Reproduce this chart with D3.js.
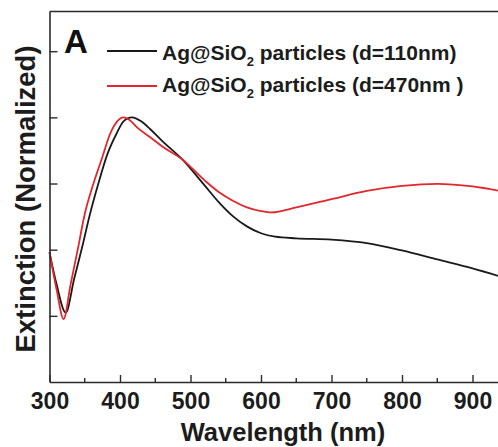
<!DOCTYPE html>
<html>
<head>
<meta charset="utf-8">
<script src="https://cdn.jsdelivr.net/npm/d3@7"></script>
<style>
  body { margin: 0; background: #fff; }
  svg { display: block; font-family: "Liberation Sans", Arial, sans-serif; font-weight: bold; }
</style>
</head>
<body>
<svg width="498" height="447"></svg>
<script>
// wavelength (nm) and normalized extinction
const wlSmall = [300, 310, 323, 335, 346, 357, 369, 382, 395, 405, 417, 430, 443, 460, 488, 520, 540, 560, 580, 600, 620, 650, 700, 750, 800, 850, 900, 950];
const extSmall = [0.49, 0.37, 0.262, 0.39, 0.506, 0.63, 0.747, 0.86, 0.938, 0.985, 1.0, 0.985, 0.955, 0.91, 0.842, 0.743, 0.68, 0.627, 0.588, 0.562, 0.549, 0.543, 0.538, 0.525, 0.497, 0.463, 0.429, 0.39];

const wlLarge = [300, 310, 320, 330, 340, 350, 362, 375, 386, 396, 405, 414, 425, 443, 460, 488, 520, 540, 560, 580, 600, 615, 650, 700, 750, 800, 850, 900, 950];
const extLarge = [0.49, 0.35, 0.238, 0.37, 0.50, 0.635, 0.747, 0.85, 0.938, 0.985, 1.0, 0.989, 0.96, 0.925, 0.89, 0.842, 0.762, 0.718, 0.685, 0.66, 0.646, 0.641, 0.66, 0.691, 0.722, 0.741, 0.749, 0.739, 0.716];

const xMajor = [300, 400, 500, 600, 700, 800, 900];
const xMinor = [350, 450, 550, 650, 750, 850];
const yTicks = [0.25, 0.5, 0.75, 1.0, 1.25];

const legendLabels = [
  { text: "Ag@SiO", sub: "2", rest: " particles (d=110nm)", color: "#1a1a1a" },
  { text: "Ag@SiO", sub: "2", rest: " particles (d=470nm )", color: "#e3262b" }
];

const svg = d3.select("svg");
const padLeft = 49.5, padBottom = 382, padTop = 11.5;

const x = d3.scaleLinear().domain([300, 950]).range([padLeft, padLeft + 650 * 0.705]);
const y = d3.scaleLinear().domain([0, 1.4]).range([padBottom, padTop]);

const axisColor = "#2b2b2b";

// curves
const line = d3.line()
  .x(d => x(d[0]))
  .y(d => y(d[1]))
  .curve(d3.curveMonotoneX);

svg.append("path")
  .datum(d3.zip(wlSmall, extSmall))
  .attr("fill", "none")
  .attr("stroke", legendLabels[0].color)
  .attr("stroke-width", 1.8)
  .attr("d", line);

svg.append("path")
  .datum(d3.zip(wlLarge, extLarge))
  .attr("fill", "none")
  .attr("stroke", legendLabels[1].color)
  .attr("stroke-width", 1.8)
  .attr("d", line);

// bottom axis, ticks inward
const xAxis = svg.append("g").attr("transform", `translate(0,${padBottom})`);
xAxis.call(d3.axisBottom(x).tickValues(xMajor).tickSizeInner(-7).tickSizeOuter(0).tickPadding(11))
  .call(g => g.select(".domain").attr("stroke-width", 1.6).attr("stroke", axisColor))
  .call(g => g.selectAll(".tick line").attr("stroke-width", 1.4).attr("stroke", axisColor))
  .call(g => g.selectAll(".tick text")
    .attr("font-size", 23).attr("font-family", "Liberation Sans, Arial, sans-serif")
    .attr("font-weight", "bold").attr("fill", "#1c1c1c")
    .attr("dy", "0.71em"));

svg.append("g").selectAll("line")
  .data(xMinor)
  .join("line")
  .attr("x1", d => x(d)).attr("x2", d => x(d))
  .attr("y1", padBottom).attr("y2", padBottom - 4)
  .attr("stroke", axisColor).attr("stroke-width", 1.4);

// left axis, ticks inward, no labels
svg.append("g").attr("transform", `translate(${padLeft},0)`)
  .call(d3.axisLeft(y).tickValues(yTicks).tickSizeInner(-8).tickSizeOuter(0).tickFormat(""))
  .call(g => g.select(".domain").attr("stroke-width", 1.6).attr("stroke", axisColor))
  .call(g => g.selectAll(".tick line").attr("stroke-width", 1.4).attr("stroke", axisColor));

// top frame line
svg.append("line")
  .attr("x1", padLeft).attr("x2", 498)
  .attr("y1", y(1.4)).attr("y2", y(1.4))
  .attr("stroke", axisColor).attr("stroke-width", 1.6);

// axis titles
svg.append("text")
  .attr("x", 283).attr("y", 441)
  .attr("text-anchor", "middle")
  .attr("font-size", 25.5)
  .attr("fill", "#1c1c1c")
  .text("Wavelength (nm)");

svg.append("text")
  .attr("transform", "translate(35,199) rotate(-90)")
  .attr("text-anchor", "middle")
  .attr("font-size", 27.5)
  .attr("fill", "#1c1c1c")
  .text("Extinction (Normalized)");

// panel letter
svg.append("text")
  .attr("x", 64).attr("y", 53)
  .attr("font-size", 33)
  .attr("fill", "#111")
  .text("A");

// legend
const legendRows = [{ ly: 51, ty: 60 }, { ly: 86, ty: 92 }];
legendLabels.forEach((d, i) => {
  svg.append("line")
    .attr("x1", 107).attr("x2", 157)
    .attr("y1", legendRows[i].ly).attr("y2", legendRows[i].ly)
    .attr("stroke", d.color).attr("stroke-width", 1.8);
  const t = svg.append("text")
    .attr("x", 162).attr("y", legendRows[i].ty)
    .attr("font-size", 21)
    .attr("fill", "#1c1c1c");
  t.append("tspan").text(d.text);
  t.append("tspan").attr("font-size", 13).attr("dy", 6).text(d.sub);
  t.append("tspan").attr("dy", -6).text(d.rest);
});
</script>
</body>
</html>
